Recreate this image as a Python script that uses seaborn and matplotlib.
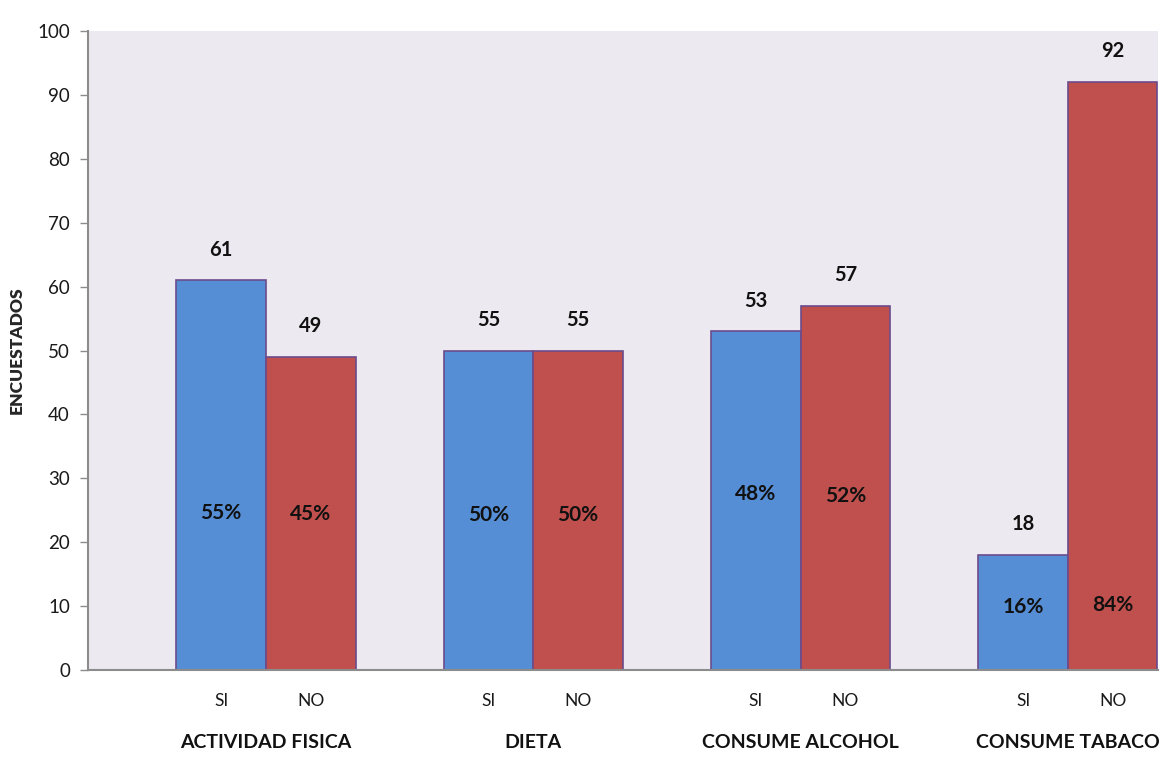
import matplotlib
matplotlib.use("Agg")
import matplotlib.pyplot as plt
import seaborn as sns
import pandas as pd

categories = ["ACTIVIDAD FISICA", "DIETA", "CONSUME ALCOHOL", "CONSUME TABACO"]
answers = ["SI", "NO"]
si_values = [61, 50, 53, 18]
no_values = [49, 50, 57, 92]
si_labels = ["61", "55", "53", "18"]
no_labels = ["49", "55", "57", "92"]
si_pct = ["55%", "50%", "48%", "16%"]
no_pct = ["45%", "50%", "52%", "84%"]
si_pct_y = [24.6, 24.2, 27.5, 9.9]
no_pct_y = [24.4, 24.2, 27.2, 10.2]
yticks = [0, 10, 20, 30, 40, 50, 60, 70, 80, 90, 100]

rows = []
for i, c in enumerate(categories):
    rows.append({"cat": c, "ans": "SI", "val": si_values[i]})
    rows.append({"cat": c, "ans": "NO", "val": no_values[i]})
df = pd.DataFrame(rows)

sns.set_theme(style="white")
plt.rcParams["font.family"] = ["Lato", "DejaVu Sans"]

fig = plt.figure(figsize=(11.71, 7.70), dpi=100)
ax = fig.add_axes([0.0751, 0.1299, 0.9138, 0.8298])
ax.set_facecolor("#ECEAF0")

sns.barplot(data=df, x="cat", y="val", hue="ans", hue_order=answers,
            palette={"SI": "#558ED5", "NO": "#C0504D"}, width=0.67,
            edgecolor="#6B4C8C", linewidth=1.2, saturation=1, ax=ax,
            legend=False)

ax.set_ylim(0, 100)
ax.set_xlim(-0.666, 3.337)
ax.set_yticks(yticks)
ax.set_yticklabels([str(t) for t in yticks], fontsize=13.5, color="#1a1a1a")
ax.tick_params(axis="y", direction="out", length=6, width=1, color="#8c8c8c", pad=7, left=True)
ax.tick_params(axis="x", bottom=False, labelbottom=False)
ax.set_xlabel("")
ax.set_ylabel("ENCUESTADOS", fontsize=12.5, fontweight="heavy")
ax.yaxis.set_label_coords(-0.059, 0.5)

for s in ["top", "right"]:
    ax.spines[s].set_visible(False)
for s in ["left", "bottom"]:
    ax.spines[s].set_color("#8c8c8c")
    ax.spines[s].set_linewidth(1.5)

labels = [si_labels, no_labels]
pcts = [si_pct, no_pct]
pct_ys = [si_pct_y, no_pct_y]
for h, cont in enumerate(ax.containers):
    for i, bar in enumerate(cont):
        xc = bar.get_x() + bar.get_width() / 2
        top = bar.get_height()
        ax.text(xc, top + 4.8, labels[h][i], ha="center", va="center",
                fontsize=14.5, fontweight="bold", color="#111111")
        ax.text(xc, pct_ys[h][i], pcts[h][i], ha="center", va="center",
                fontsize=15, fontweight="bold", color="#111111")
        ax.text(xc, -4.8, answers[h], ha="center", va="center",
                fontsize=12.5, color="#1a1a1a", clip_on=False)

for i, c in enumerate(categories):
    ax.text(i, -11.3, c, ha="center", va="center", fontsize=14,
            fontweight="bold", color="#111111", clip_on=False)

fig.savefig("out.png", dpi=100)
